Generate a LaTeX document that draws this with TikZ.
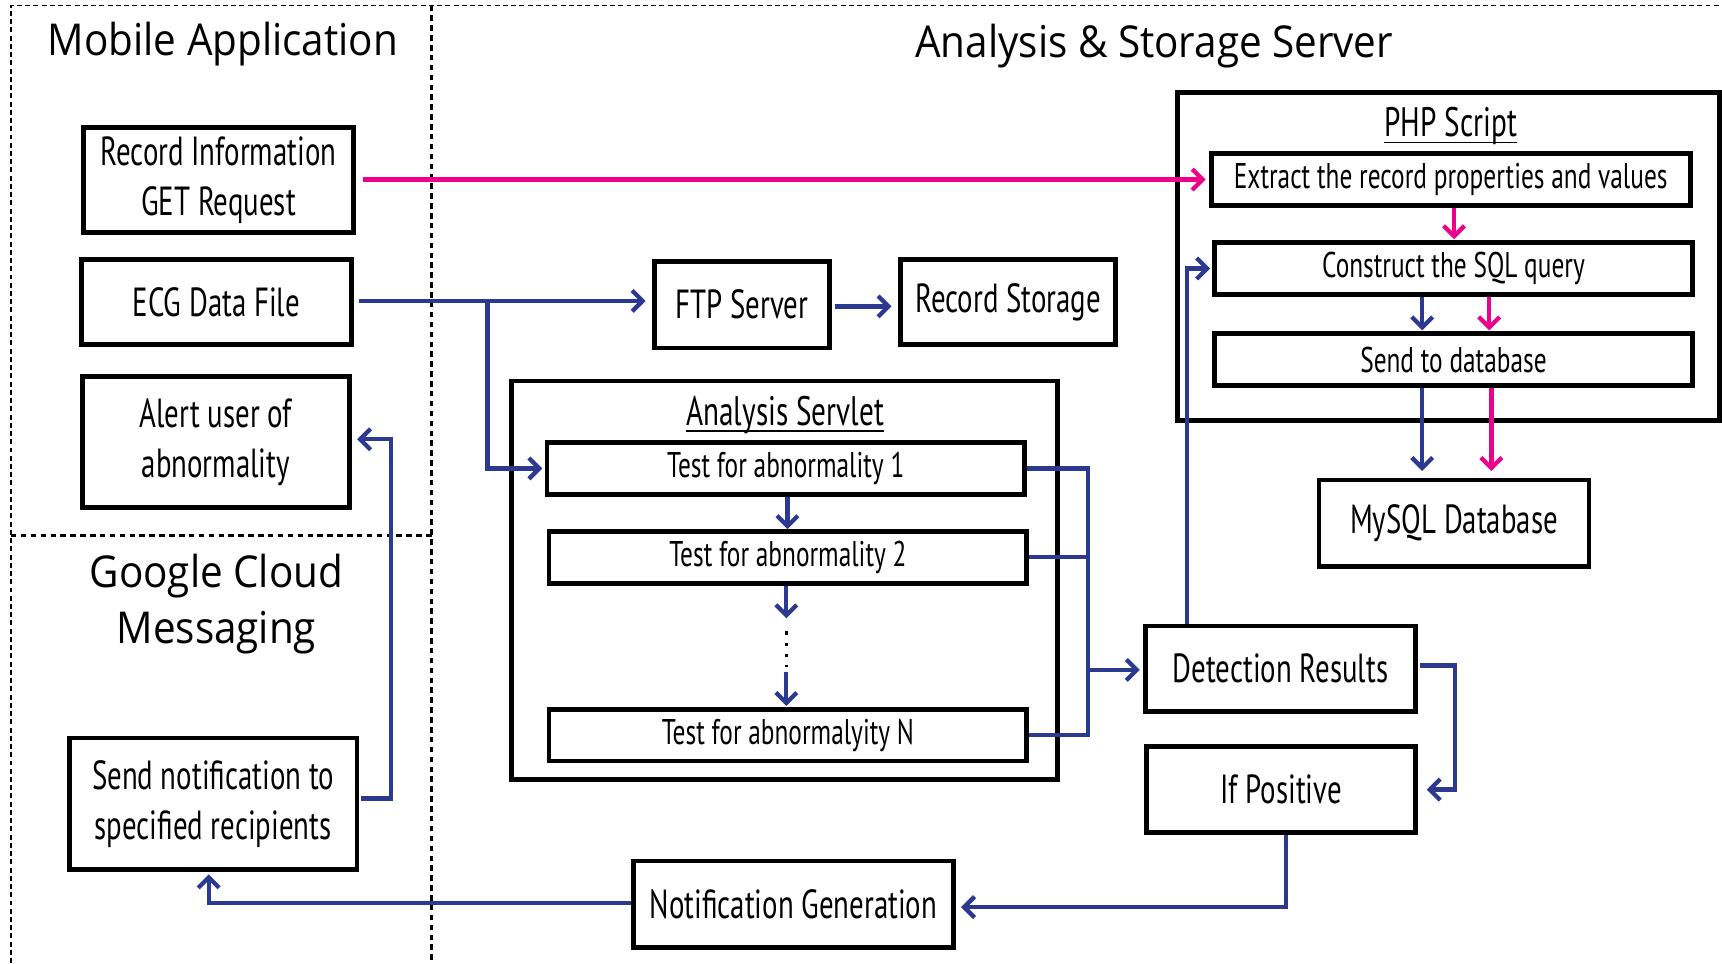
\documentclass[tikz,border=0pt]{standalone}
\usepackage{fontspec}
\setmainfont{PT Sans}
\newfontfamily\boxfont[FakeStretch=0.71]{PT Sans}
\newfontfamily\titlefont[FakeStretch=0.92]{Open Sans}
\usetikzlibrary{arrows.meta}
\definecolor{flowblue}{HTML}{2B3990}
\definecolor{flowpink}{HTML}{EC008C}
\tikzset{
  box/.style={draw, line width=4.3pt, inner sep=0pt, align=center,
    font=\boxfont\fontsize{37}{46}\selectfont},
  slimbox/.style={box, font=\boxfont\fontsize{32.5}{38}\selectfont},
  frame/.style={draw, line width=4.3pt, inner sep=0pt},
  regiontitle/.style={inner sep=0pt, align=center,
    font=\titlefont\fontsize{40}{51}\selectfont},
  subtitle/.style={inner sep=0pt, font=\boxfont\fontsize{37.5}{44}\selectfont},
  blueline/.style={draw=flowblue, line width=3.9pt},
  pinkline/.style={draw=flowpink, line width=3.9pt},
  bluearrow/.style={blueline, -{Straight Barb[length=9.5pt,width=19pt]}},
  pinkarrow/.style={pinkline, -{Straight Barb[length=9.5pt,width=19pt]}},
  thindash/.style={line width=1.5pt, dash pattern=on 4.5pt off 3pt},
  thickdash/.style={line width=2.8pt, dash pattern=on 5pt off 4pt}
}
\begin{document}
\begin{tikzpicture}[x=1pt,y=-1pt]
\useasboundingbox (0,0) rectangle (1568,877);

% region borders
\draw[thindash] (10,877) -- (10,5) -- (1568,5);
\draw[thickdash] (393,5) -- (393,877);
\draw[thickdash] (10,488) -- (393,488);

% region titles
\node[regiontitle] (tmobile) at (203,40) {Mobile Application};
\node[regiontitle] (tserver) at (1051,42) {Analysis \& Storage Server};
\node[regiontitle] (tgcm) at (197,550) {Google Cloud\\Messaging};

% mobile application boxes
\node[box, minimum width=246pt, minimum height=96pt] (rec) at (199,164) {Record Information\\GET Request};
\node[box, minimum width=246pt, minimum height=78pt] (ecg) at (197,275) {ECG Data File};
\node[box, minimum width=243pt, minimum height=119pt] (alert) at (196.5,402.5) {Alert user of\\abnormality};
\node[box, minimum width=262pt, minimum height=120pt] (send) at (194,732) {Send notification to\\specified recipients};

% server boxes
\node[box, minimum width=159pt, minimum height=79pt] (ftp) at (675.5,277.5) {FTP Server};
\node[box, minimum width=196pt, minimum height=78pt] (store) at (918,275) {Record Storage};

\node[frame, minimum width=497pt, minimum height=363pt] (servlet) at (714.5,528.5) {};
\node[subtitle] (servtitle) at (715,378) {Analysis Servlet};
\draw[line width=1.4pt] ([yshift=-5pt]servtitle.base west) -- ([yshift=-5pt]servtitle.base east);
\node[slimbox, minimum width=435pt, minimum height=47pt] (t1) at (715.5,426.5) {Test for abnormality 1};
\node[slimbox, minimum width=435pt, minimum height=47pt] (t2) at (717.5,507.5) {Test for abnormality 2};
\node[slimbox, minimum width=435pt, minimum height=47pt] (tn) at (717.5,669.5) {Test for abnormalyity N};

\node[frame, minimum width=494pt, minimum height=299pt] (php) at (1319,233.5) {};
\node[subtitle] (phptitle) at (1321,115) {PHP Script};
\draw[line width=1.4pt] ([yshift=-5pt]phptitle.base west) -- ([yshift=-5pt]phptitle.base east);
\node[slimbox, minimum width=436pt, minimum height=47pt] (ext) at (1321,163.5) {Extract the record properties and values};
\node[slimbox, minimum width=435pt, minimum height=47pt] (sql) at (1323.5,244.5) {Construct the SQL query};
\node[slimbox, minimum width=435pt, minimum height=47pt] (sdb) at (1323.5,327.5) {Send to database};
\node[box, minimum width=246pt, minimum height=79pt] (mysql) at (1324,476.5) {MySQL Database};

\node[box, minimum width=246pt, minimum height=78pt] (det) at (1166,609) {Detection Results};
\node[box, minimum width=245pt, minimum height=78pt] (ifpos) at (1166.5,719) {If Positive};
\node[box, minimum width=291pt, minimum height=79pt] (notif) at (722.5,823.5) {Notification Generation};

% record information request
\draw[pinkarrow, shorten >=3pt] ([xshift=6pt]rec.east |- ext.west) -- (ext.west);

% ECG file upload and analysis branch
\coordinate (ecgsplit) at (444,274);
\draw[bluearrow, shorten >=6pt] ([xshift=5pt]ecg.east |- ecgsplit) -- (ecgsplit -| ftp.west);
\draw[bluearrow, shorten >=2pt] (ecgsplit) |- (t1.west);
\draw[bluearrow, shorten >=6pt] ([xshift=3pt]ftp.east |- 0,279) -- (store.west |- 0,279);

% analysis chain
\coordinate (gap) at (716,590);
\draw[bluearrow] (t1.south -| 717,0) -- (t2.north -| 717,0);
\draw[bluearrow] (t2.south -| gap) -- ([yshift=27pt]gap);
\draw[line width=3.2pt, dash pattern=on 3.2pt off 7pt] ([yshift=15pt]gap) -- ([yshift=-17pt]gap);
\draw[bluearrow, shorten >=1pt] ([yshift=-22pt]gap) -- (tn.north -| gap);

% collecting the test results
\coordinate (bus) at (991,610);
\draw[blueline] (t1.east) -- (t1.east -| bus) -- (tn.east -| bus) -- (tn.east);
\draw[blueline] (t2.east) -- (t2.east -| bus);
\draw[bluearrow, shorten >=3pt] ([xshift=-1.9pt]bus) -- (bus -| det.west);

% results to database and notification
\draw[bluearrow, shorten >=2pt] ([xshift=-85pt]det.north) |- (sql.west);
\draw[bluearrow, shorten >=8pt] ([yshift=3pt,xshift=2pt]det.east) -- ++(32,0) |- (ifpos.east);
\draw[bluearrow, shorten >=5pt] ([xshift=4.5pt]ifpos.south) |- ([yshift=-2.5pt]notif.east);
\draw[bluearrow, shorten >=2pt] ([yshift=1.5pt]notif.west) -| ([xshift=-4pt]send.south);
\draw[bluearrow, shorten >=5pt] ([yshift=5pt,xshift=2pt]send.east) -- ++(27,0) |- ([yshift=2.5pt]alert.east);

% PHP script flow
\draw[pinkarrow, shorten >=1pt] (ext.south -| 1324,0) -- (sql.north -| 1324,0);
\draw[bluearrow, shorten >=1pt] (sql.south -| 1295,0) -- (sdb.north -| 1295,0);
\draw[pinkarrow, shorten >=1pt] (sql.south -| 1356,0) -- (sdb.north -| 1356,0);
\draw[bluearrow, shorten >=6pt] (sdb.south -| 1295,0) -- (mysql.north -| 1295,0);
\draw[pinkarrow, shorten >=6pt] (sdb.south -| 1358,0) -- (mysql.north -| 1358,0);
\end{tikzpicture}
\end{document}
